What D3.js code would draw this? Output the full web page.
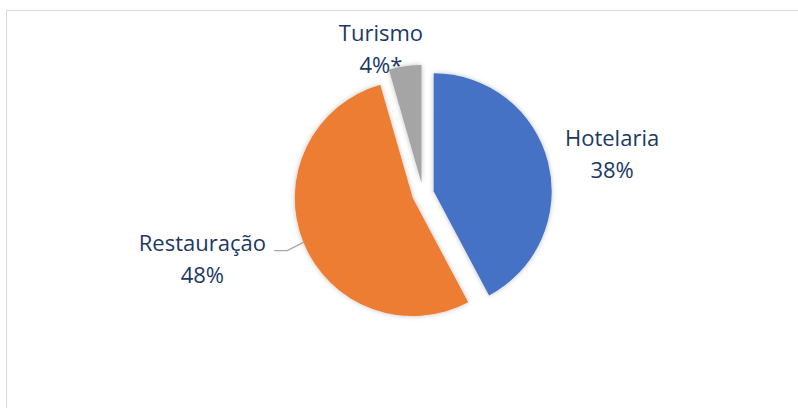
<!DOCTYPE html>
<html>
<head>
<meta charset="utf-8">
<script src="https://cdn.jsdelivr.net/npm/d3@7"></script>
<style>
  html, body { margin: 0; padding: 0; background: #fff; }
  svg { display: block; }
  .lbl { font-family: "Open Sans", sans-serif; font-size: 22px; fill: #203864; }
</style>
</head>
<body>
<svg id="chart" width="798" height="408"></svg>
<script>
// data (labels show raw values, they sum to 90)
var categories = [ "Hotelaria", "Restauração", "Turismo" ];
var values     = [ 38, 48, 4 ];
var labelText  = [ "38%", "48%", "4%*" ];
var colors     = [ "#4472C4", "#ED7D31", "#A5A5A5" ];

// label placement, polar from the pie centre (degrees clockwise from top, px)
var labelPolar = [ [ 80, 192 ], [ 252, 232 ], [ 343, 144 ] ];

var svg = d3.select( "#chart" ),
    width = +svg.attr( "width" ),
    height = +svg.attr( "height" );

var cx = 423, cy = 194, radius = 118, explode = 11;

// chart area border
svg.append( "rect" )
    .attr( "x", 6.5 ).attr( "y", 10.5 )
    .attr( "width", width ).attr( "height", height )
    .attr( "fill", "#fff" )
    .attr( "stroke", "#d9d9d9" );

var defs = svg.append( "defs" );
var f = defs.append( "filter" ).attr( "id", "soft" )
    .attr( "x", "-20%" ).attr( "y", "-20%" ).attr( "width", "140%" ).attr( "height", "140%" );
f.append( "feDropShadow" )
    .attr( "dx", 0 ).attr( "dy", 0 )
    .attr( "stdDeviation", 2.5 )
    .attr( "flood-color", "#000" )
    .attr( "flood-opacity", 0.25 );

var pie = d3.pie().sort( null ).value( function( d ) { return d; } );
var arcs = pie( values );

var arc = d3.arc().innerRadius( 0 ).outerRadius( radius );

var g = svg.append( "g" ).attr( "transform", "translate(" + cx + "," + cy + ")" );

function offset( d )
{
    var a = ( d.startAngle + d.endAngle ) / 2;
    return [ explode * Math.sin( a ), -explode * Math.cos( a ) ];
}

g.selectAll( "path" )
    .data( arcs )
    .enter().append( "path" )
    .attr( "d", arc )
    .attr( "fill", function( d, i ) { return colors[ i ]; } )
    .attr( "filter", "url(#soft)" )
    .attr( "transform", function( d ) { return "translate(" + offset( d ) + ")"; } );

function polar( deg, r )
{
    var a = deg * Math.PI / 180;
    return [ r * Math.sin( a ), -r * Math.cos( a ) ];
}

// leader line for Restauração
var o = offset( arcs[ 1 ] );
var e = polar( 248, radius - 1 );
var p0 = [ o[ 0 ] + e[ 0 ], o[ 1 ] + e[ 1 ] ];
var lp = polar( labelPolar[ 1 ][ 0 ], labelPolar[ 1 ][ 1 ] );
g.append( "polyline" )
    .attr( "points", [ p0, [ p0[ 0 ] - 17, lp[ 1 ] - 15 ], [ lp[ 0 ] + 72, lp[ 1 ] - 15 ] ]
        .map( function( p ) { return p.join( "," ); } ).join( " " ) )
    .attr( "fill", "none" )
    .attr( "stroke", "#a6a6a6" )
    .attr( "stroke-width", 1.3 );

// labels
arcs.forEach( function( d, i )
{
    var p = polar( labelPolar[ i ][ 0 ], labelPolar[ i ][ 1 ] );
    var t = g.append( "text" ).attr( "class", "lbl" ).attr( "text-anchor", "middle" );
    t.append( "tspan" ).attr( "x", p[ 0 ] ).attr( "y", p[ 1 ] - 15 ).text( categories[ i ] );
    t.append( "tspan" ).attr( "x", p[ 0 ] ).attr( "y", p[ 1 ] + 17 ).text( labelText[ i ] );
});
</script>
</body>
</html>
